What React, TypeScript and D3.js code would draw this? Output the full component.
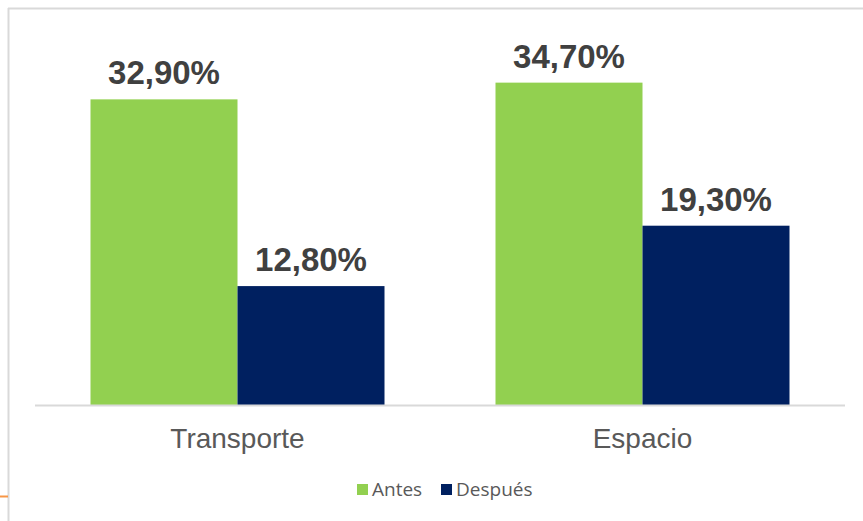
import React, { useRef, useEffect } from 'react';
import * as d3 from 'd3';

const categories = ['Transporte', 'Espacio'];
const seriesNames = ['Antes', 'Después'];
const antes = [32.9, 34.7];
const despues = [12.8, 19.3];
const colors = ['#92D050', '#002060'];

const W = 863;
const H = 521;

const fmt = (v: number) => v.toFixed(2).replace('.', ',') + '%';

export default function App() {
  const svgRef = useRef<SVGSVGElement>(null);

  useEffect(() => {
    if (!svgRef.current) return;
    const svg = d3.select(svgRef.current);
    svg.selectAll('*').remove();

    const left = 35, right = 845, baseY = 405;

    // Frame
    svg.append('line')
      .attr('x1', 8).attr('x2', W).attr('y1', 8.5).attr('y2', 8.5)
      .attr('stroke', '#d9d9d9').attr('stroke-width', 2);
    svg.append('line')
      .attr('x1', 8.5).attr('x2', 8.5).attr('y1', 8).attr('y2', H)
      .attr('stroke', '#d9d9d9').attr('stroke-width', 2);
    svg.append('line')
      .attr('x1', 0).attr('x2', 8).attr('y1', 496.5).attr('y2', 496.5)
      .attr('stroke', '#F79646').attr('stroke-width', 2);

    const p = 111 / 405;
    const x0 = d3.scaleBand<string>()
      .domain(categories)
      .range([left, right])
      .paddingInner(p)
      .paddingOuter(p / 2);

    const x1 = d3.scaleBand<string>()
      .domain(seriesNames)
      .range([0, x0.bandwidth()]);

    const y = d3.scaleLinear().domain([0, 40]).range([baseY, baseY - 40 * 9.29]);

    const rows = categories.map((c, i) => ({ cat: c, vals: [antes[i], despues[i]] }));

    const groups = svg.selectAll('.grp')
      .data(rows)
      .join('g')
      .attr('class', 'grp')
      .attr('transform', d => `translate(${x0(d.cat)},0)`);

    groups.selectAll('rect')
      .data(d => d.vals.map((v, j) => ({ name: seriesNames[j], v, j })))
      .join('rect')
      .attr('x', d => x1(d.name)!)
      .attr('y', d => y(d.v))
      .attr('width', x1.bandwidth())
      .attr('height', d => baseY - y(d.v))
      .attr('fill', d => colors[d.j]);

    groups.selectAll('text.val')
      .data(d => d.vals.map((v, j) => ({ name: seriesNames[j], v, j })))
      .join('text')
      .attr('class', 'val')
      .attr('x', d => x1(d.name)! + x1.bandwidth() / 2)
      .attr('y', d => y(d.v) - 15)
      .attr('text-anchor', 'middle')
      .style('font-family', '"Liberation Sans", Arial, sans-serif')
      .style('font-weight', 'bold')
      .style('font-size', '33px')
      .style('fill', '#404040')
      .text(d => fmt(d.v));

    // Baseline
    svg.append('line')
      .attr('x1', left).attr('x2', right).attr('y1', baseY + 0.5).attr('y2', baseY + 0.5)
      .attr('stroke', '#d9d9d9').attr('stroke-width', 2);

    // Category labels
    const ax = svg.append('g')
      .attr('transform', `translate(0,${baseY})`)
      .call(d3.axisBottom(x0).tickSize(0).tickPadding(0));
    ax.select('.domain').remove();
    ax.selectAll('text')
      .attr('dy', 0)
      .attr('y', 43)
      .style('font-family', '"Liberation Sans", Arial, sans-serif')
      .style('font-size', '28px')
      .style('fill', '#595959');

    // Legend
    const legendX = [357, 441];
    const legend = svg.append('g');
    seriesNames.forEach((n, i) => {
      legend.append('rect')
        .attr('x', legendX[i]).attr('y', 484)
        .attr('width', 11).attr('height', 11)
        .attr('fill', colors[i]);
      legend.append('text')
        .attr('x', legendX[i] + 15).attr('y', 496)
        .style('font-family', '"Open Sans", sans-serif')
        .style('font-size', '19px')
        .style('fill', '#595959')
        .text(n);
    });
  }, []);

  return (
    <div style={{ position: 'fixed', left: 0, top: 0, width: W, height: H, background: '#fff' }}>
      <svg ref={svgRef} width={W} height={H} style={{ display: 'block' }}></svg>
    </div>
  );
}
